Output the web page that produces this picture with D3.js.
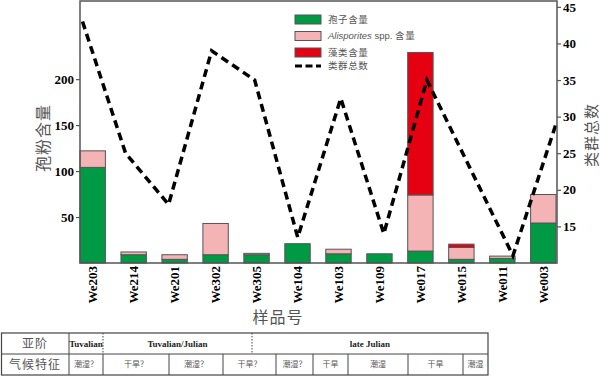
<!DOCTYPE html>
<html>
<head>
<meta charset="utf-8">
<script src="https://cdn.jsdelivr.net/npm/d3@7"></script>
<style>
  body { margin: 0; background: #fff; }
  text { font-family: "Liberation Serif", "Times New Roman", serif; }
  .cjk { font-family: "Noto Sans CJK SC", sans-serif; fill: #555; }
</style>
</head>
<body>
<div id="chart"></div>
<script>
// sample names
const samples = ["We203", "We214", "We201", "We302", "We305", "We104", "We103", "We109", "We017", "We015", "We011", "We003"]
// stacked bar values (left axis)
const spores = [104, 9, 4, 9, 9, 21, 10, 10, 13, 4, 5, 43.5]
const alisporites = [18, 3, 5, 34, 1.5, 0, 5, 0, 61, 13, 2.5, 31]
const algae = [0, 0, 0, 0, 0, 0, 0, 0, 155, 3.5, 0, 0]
// total taxa (right axis)
const taxa = [43, 25, 18, 39, 35, 13.5, 32.5, 14, 35, 23, 11, 29]

const leftTicks = [50, 100, 150, 200]
const rightTicks = [15, 20, 25, 30, 35, 40, 45]

const legendLabels = ["孢子含量", "Alisporites spp. 含量", "藻类含量", "类群总数"]

// table below the chart
const stageLabels = ["Tuvalian", "Tuvalian/Julian", "late Julian"]
const climateLabels = ["潮湿？", "干旱？", "潮湿？", "干旱？", "潮湿？", "干旱", "潮湿", "干旱", "潮湿"]

const colors = {spores: "#009a44", alisporites: "#f4b3b5", algae: "#e50012"}

const width = 600, height = 376
const plot = {left: 80, right: 557, top: 1, bottom: 263}

const svg = d3.select("#chart").append("svg")
  .attr("width", width)
  .attr("height", height)

const rows = samples.map((s, i) => ({
  name: s, spores: spores[i], alisporites: alisporites[i], algae: algae[i]
}))

const x = d3.scaleBand()
  .domain(samples)
  .range([plot.left, plot.right - 1])
  .paddingInner(0.38)
  .paddingOuter(0)

const xl = d3.scalePoint()
  .domain(samples)
  .range([plot.left + 2.5, plot.right - 1])

const y = d3.scaleLinear()
  .domain([0, 285])
  .range([plot.bottom, plot.top])

const y2 = d3.scaleLinear()
  .domain([10, 45.8])
  .range([plot.bottom, plot.top])

const stack = d3.stack().keys(["spores", "alisporites", "algae"])
const series = stack(rows)

svg.append("g")
  .selectAll("g")
  .data(series)
  .enter().append("g")
  .attr("fill", d => colors[d.key])
  .selectAll("rect")
  .data(d => d.filter(p => p[1] - p[0] > 0))
  .enter().append("rect")
  .attr("x", d => x(d.data.name))
  .attr("width", x.bandwidth())
  .attr("y", d => y(d[1]))
  .attr("height", d => y(d[0]) - y(d[1]))
  .attr("stroke", "#555")
  .attr("stroke-width", 1)

// dashed taxa line
const line = d3.line()
  .x((d, i) => xl(samples[i]))
  .y(d => y2(d))

svg.append("path")
  .datum(taxa)
  .attr("fill", "none")
  .attr("stroke", "#000")
  .attr("stroke-width", 3.5)
  .attr("stroke-dasharray", "8,5")
  .attr("d", line)

// frame
svg.append("rect")
  .attr("x", plot.left)
  .attr("y", plot.top)
  .attr("width", plot.right - plot.left)
  .attr("height", plot.bottom - plot.top)
  .attr("fill", "none")
  .attr("stroke", "#555")
  .attr("stroke-width", 1.5)

// left axis
const gl = svg.append("g")
  .attr("transform", `translate(${plot.left},0)`)
  .call(d3.axisLeft(y).tickValues(leftTicks).tickSize(4).tickPadding(2))
gl.select(".domain").remove()

// right axis
const gr = svg.append("g")
  .attr("transform", `translate(${plot.right},0)`)
  .call(d3.axisRight(y2).tickValues(rightTicks).tickSize(4).tickPadding(2))
gr.select(".domain").remove()

svg.selectAll(".tick line").attr("stroke", "#555").attr("stroke-width", 1.2)
svg.selectAll(".tick text")
  .attr("fill", "#000")
  .style("font-family", "'Liberation Serif', serif")
  .style("font-weight", "bold")
  .style("font-size", "13px")

// x labels
const gx = svg.append("g")
  .attr("transform", `translate(0,${plot.bottom})`)
  .call(d3.axisBottom(x).tickSize(0).tickPadding(0))
gx.select(".domain").remove()
gx.selectAll("text")
  .attr("fill", "#000")
  .style("font-family", "'Liberation Serif', serif")
  .style("font-weight", "bold")
  .style("font-size", "13px")
  .attr("transform", "rotate(-90)")
  .attr("text-anchor", "end")
  .attr("x", -3)
  .attr("y", 0)
  .attr("dy", "0.35em")

// axis titles
svg.append("text").attr("class", "cjk")
  .attr("transform", "translate(49,138) rotate(-90)")
  .attr("text-anchor", "middle")
  .style("font-size", "16px")
  .style("letter-spacing", "1px")
  .text("孢粉含量")

svg.append("text").attr("class", "cjk")
  .attr("transform", "translate(597,135) rotate(-90)")
  .attr("text-anchor", "middle")
  .style("font-size", "15px")
  .style("letter-spacing", "1px")
  .text("类群总数")

svg.append("text").attr("class", "cjk")
  .attr("x", 278)
  .attr("y", 323)
  .attr("text-anchor", "middle")
  .style("font-size", "16px")
  .style("letter-spacing", "1px")
  .text("样品号")

// legend
const legend = svg.append("g").attr("transform", "translate(295,15)")
const swatch = [colors.spores, colors.alisporites, colors.algae]
const legY = [0, 16.5, 33, 51]
swatch.forEach((c, i) => {
  legend.append("rect")
    .attr("x", 0).attr("y", legY[i])
    .attr("width", 26).attr("height", 9)
    .attr("fill", c).attr("stroke", "#555").attr("stroke-width", 1)
})
legend.append("line")
  .attr("x1", 0).attr("x2", 26)
  .attr("y1", legY[3]).attr("y2", legY[3])
  .attr("stroke", "#000").attr("stroke-width", 3)
  .attr("stroke-dasharray", "7,3.5")

legendLabels.forEach((t, i) => {
  const tx = legend.append("text").attr("class", "cjk")
    .attr("x", 33)
    .attr("y", i < 3 ? legY[i] + 4.5 : legY[i])
    .attr("dy", "0.35em")
    .style("font-size", "9.5px")
    .style("letter-spacing", "0.6px")
  if (i === 1) {
    tx.append("tspan").style("font-style", "italic")
      .style("font-family", "'Liberation Sans', Arial, sans-serif")
      .style("letter-spacing", "0px")
      .text("Alisporites")
    tx.append("tspan")
      .style("font-family", "'Liberation Sans', Arial, sans-serif")
      .style("letter-spacing", "0px")
      .text(" spp. ")
    tx.append("tspan").text("含量")
  } else {
    tx.text(t)
  }
})

// table
const table = {left: 1.5, right: 488, top: 333, mid: 354, bottom: 375, col: 69}
const stageEdges = [69, 103, 252, 488]
const climateEdges = [69, 103, 169, 223, 276, 313, 348, 408, 463, 488]
const tg = svg.append("g")
const tline = (x1, y1, x2, y2, dash) => tg.append("line")
  .attr("x1", x1).attr("y1", y1).attr("x2", x2).attr("y2", y2)
  .attr("stroke", "#444").attr("stroke-width", 1)
  .attr("stroke-dasharray", dash || null)

tg.append("rect")
  .attr("x", table.left).attr("y", table.top)
  .attr("width", table.right - table.left).attr("height", table.bottom - table.top)
  .attr("fill", "none").attr("stroke", "#444").attr("stroke-width", 1.2)
tline(table.left, table.mid, table.right, table.mid)
tline(table.col, table.top, table.col, table.bottom)
stageEdges.slice(1, -1).forEach(e => tline(e, table.top, e, table.mid, "1.5,1.5"))
climateEdges.slice(1, -1).forEach(e => tline(e, table.mid, e, table.bottom))

tg.append("text").attr("class", "cjk")
  .attr("x", 35).attr("y", (table.top + table.mid) / 2).attr("dy", "0.35em")
  .attr("text-anchor", "middle").style("font-size", "12px").style("letter-spacing", "1px")
  .text("亚阶")
tg.append("text").attr("class", "cjk")
  .attr("x", 35).attr("y", (table.mid + table.bottom) / 2).attr("dy", "0.35em")
  .attr("text-anchor", "middle").style("font-size", "12px").style("letter-spacing", "1px")
  .text("气候特征")

stageLabels.forEach((t, i) => {
  tg.append("text")
    .attr("x", (stageEdges[i] + stageEdges[i + 1]) / 2)
    .attr("y", (table.top + table.mid) / 2).attr("dy", "0.35em")
    .attr("text-anchor", "middle")
    .style("font-size", "9px").style("font-weight", "bold").attr("fill", "#222")
    .text(t)
})

climateLabels.forEach((t, i) => {
  tg.append("text").attr("class", "cjk")
    .attr("x", (climateEdges[i] + climateEdges[i + 1]) / 2)
    .attr("y", (table.mid + table.bottom) / 2).attr("dy", "0.35em")
    .attr("text-anchor", "middle")
    .style("font-size", "8px")
    .text(t)
})
</script>
</body>
</html>
